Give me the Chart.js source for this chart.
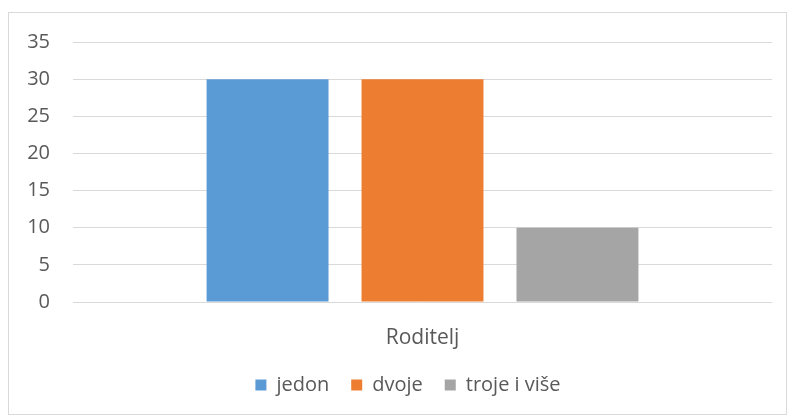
<!DOCTYPE html>
<html>
<head>
<meta charset="utf-8">
<script src="https://cdn.jsdelivr.net/npm/chart.js@4"></script>
<style>
  html, body { margin: 0; padding: 0; background: #fff; }
  #wrap { position: relative; width: 788px; height: 416px; }
</style>
</head>
<body>
<div id="wrap"><canvas id="chart" width="788" height="416"></canvas></div>
<script>
// Podaci
const kategorije = ['Roditelj'];
const serije = ['jedon', 'dvoje', 'troje i više'];
const vrijednosti = [[30], [30], [10]];
const boje = ['#5B9BD5', '#ED7D31', '#A5A5A5'];
const yTicks = [0, 5, 10, 15, 20, 25, 30, 35];

const fontFamily = "'Open Sans', 'Liberation Sans', sans-serif";
const tekstBoja = '#595959';

// Okvir oko grafikona + pomak legende udesno
const okvir = {
    id: 'okvir',
    afterLayout(chart) {
        if (chart.legend) chart.legend.left += 44;
    },
    beforeDraw(chart) {
        const ctx = chart.ctx;
        ctx.save();
        ctx.fillStyle = '#fff';
        ctx.fillRect(0, 0, chart.width, chart.height);
        ctx.strokeStyle = '#d9d9d9';
        ctx.lineWidth = 1;
        ctx.strokeRect(8.5, 12.5, 778, 402);
        ctx.restore();
    }
};

const ctx = document.getElementById('chart').getContext('2d');
new Chart(ctx, {
    type: 'bar',
    data: {
        labels: kategorije,
        datasets: serije.map((s, i) => ({
            label: s,
            data: vrijednosti[i],
            backgroundColor: boje[i],
            borderWidth: 0,
            categoryPercentage: 0.665,
            barPercentage: 0.787
        }))
    },
    options: {
        responsive: false,
        animation: false,
        layout: { padding: { top: 42, right: 16, left: 0, bottom: 11 } },
        scales: {
            y: {
                min: 0,
                max: 35,
                afterBuildTicks(scale) {
                    scale.ticks = yTicks.map(v => ({ value: v }));
                },
                afterFit(scale) { scale.width = 73; },
                border: { display: false },
                grid: { color: '#d9d9d9', lineWidth: 1, drawTicks: false },
                ticks: {
                    padding: 23,
                    color: tekstBoja,
                    font: { family: fontFamily, size: 20 }
                }
            },
            x: {
                afterFit(scale) { scale.height = 51; },
                border: { display: false },
                grid: { display: false, drawTicks: false },
                ticks: {
                    padding: 23,
                    color: tekstBoja,
                    font: { family: fontFamily, size: 21 }
                }
            }
        },
        plugins: {
            legend: {
                position: 'bottom',
                maxHeight: 63,
                labels: {
                    boxWidth: 11,
                    boxHeight: 11,
                    padding: 22,
                    color: tekstBoja,
                    font: { family: fontFamily, size: 20 }
                }
            },
            tooltip: { enabled: false }
        }
    },
    plugins: [okvir]
});
</script>
</body>
</html>
